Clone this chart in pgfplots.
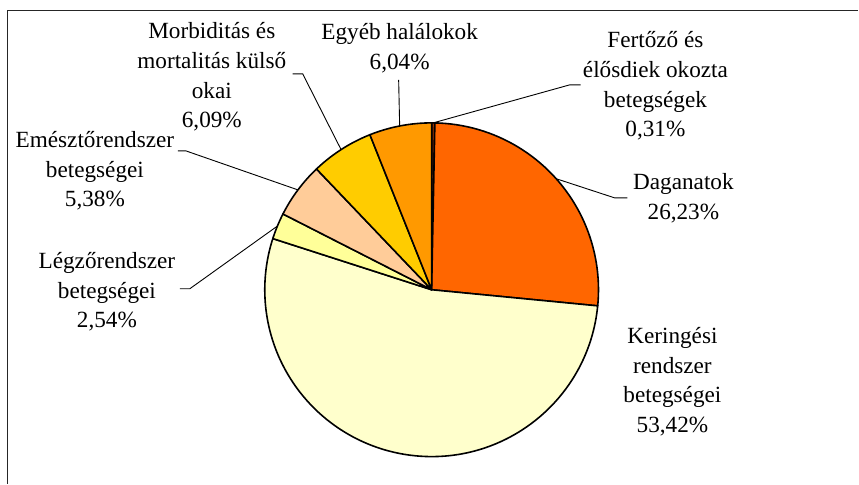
\documentclass[border=0pt]{standalone}
\usepackage{fontspec}
\setmainfont{Liberation Serif}
\usepackage{pgfplots}
\usepackage{pgfplotstable}
\pgfplotsset{compat=1.18}
\definecolor{pie0}{HTML}{993300}
\definecolor{pie1}{HTML}{FF6600}
\definecolor{pie2}{HTML}{FFFFCC}
\definecolor{pie3}{HTML}{FFFF99}
\definecolor{pie4}{HTML}{FFCC99}
\definecolor{pie5}{HTML}{FFCC00}
\definecolor{pie6}{HTML}{FF9900}
\tikzset{lab/.style={font=\fontsize{23.3}{30}\selectfont, align=center, inner sep=0pt}}
\pgfplotstableread{
value
0.31
26.23
53.42
2.54
5.38
6.09
6.04
}\piedata
\def\pcum{0}%
\pgfplotsforeachungrouped \i in {0,...,6}{%
  \pgfplotstablegetelem{\i}{value}\of\piedata
  \pgfmathsetmacro\pa{90-3.6*\pcum}%
  \pgfmathsetmacro\pcum{\pcum+\pgfplotsretval}%
  \pgfmathsetmacro\pb{90-3.6*\pcum}%
  \expandafter\xdef\csname pieS\i\endcsname{\pa}%
  \expandafter\xdef\csname pieE\i\endcsname{\pb}%
}%
\begin{document}
\begin{tikzpicture}
\begin{axis}[x=1bp,y=1bp,xmin=0,xmax=859,ymin=0,ymax=484,
  hide axis, clip=false, scale only axis]
\path (axis cs:0,0) rectangle (axis cs:859,484);
\addplot[draw=none] coordinates {(432,194)};
\pgfplotsinvokeforeach{0,...,6}{%
  \filldraw[fill=pie#1, draw=black, line width=1.6bp, line join=round]
    (axis cs:432,194) -- ++(\csname pieS#1\endcsname:167bp)
    arc[start angle=\csname pieS#1\endcsname, end angle=\csname pieE#1\endcsname, radius=167bp] -- cycle;
}
% frame
\draw[line width=1.5bp, black!85] (axis cs:7.5,0) -- (axis cs:7.5,473.5) -- (axis cs:859,473.5);
% leader lines
\draw[line width=0.9bp] (axis cs:293,410) -- (axis cs:303,410) -- (axis cs:341,335);
\draw[line width=0.9bp] (axis cs:399,404) -- (axis cs:400,358);
\draw[line width=0.9bp] (axis cs:433.5,361) -- (axis cs:570,399) -- (axis cs:581,399);
\draw[line width=0.9bp] (axis cs:557,305) -- (axis cs:615,286) -- (axis cs:628,286);
\draw[line width=0.9bp] (axis cs:278,258) -- (axis cs:190,195) -- (axis cs:180,195);
\draw[line width=0.9bp] (axis cs:298,294) -- (axis cs:186,333) -- (axis cs:178,333);
% labels
\node[lab] at (axis cs:212,407) {Morbiditás és\\mortalitás külső\\okai\\6,09\%};
\node[lab] at (axis cs:400,436) {Egyéb halálokok\\6,04\%};
\node[lab] at (axis cs:656,398) {Fertőző és\\élősdiek okozta\\betegségek\\0,31\%};
\node[lab] at (axis cs:684,286) {Daganatok\\26,23\%};
\node[lab] at (axis cs:673,102) {Keringési\\rendszer\\betegségei\\53,42\%};
\node[lab] at (axis cs:107,192) {Légzőrendszer\\betegségei\\2,54\%};
\node[lab] at (axis cs:95,313) {Emésztőrendszer\\betegségei\\5,38\%};
\end{axis}
\end{tikzpicture}
\end{document}
